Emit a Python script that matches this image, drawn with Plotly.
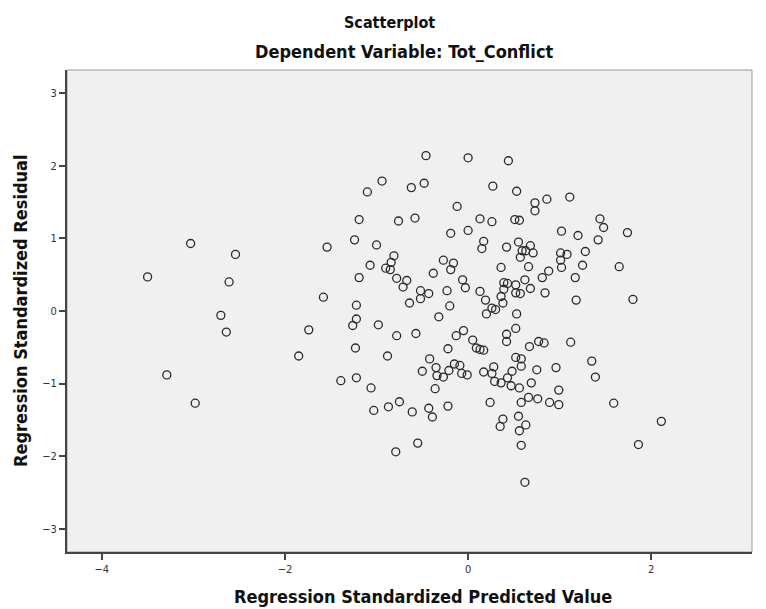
import plotly.graph_objects as go

# Regression standardized predicted values (x) and residuals (y)
pred_left = [-3.03, -2.54, -3.50, -2.61, -1.54, -1.24, -1.19, -1.19, -1.58, -1.22, -2.70,
             -1.22, -1.26, -2.64, -1.74, -1.23, -1.85, -3.29, -2.98, -1.39, -1.22]
resid_left = [0.93, 0.78, 0.47, 0.40, 0.88, 0.98, 1.26, 0.46, 0.19, 0.08, -0.06,
              -0.11, -0.20, -0.29, -0.26, -0.51, -0.62, -0.88, -1.27, -0.96, -0.92]

pred_upper = [-0.46, 0.00, 0.44, -0.94, -1.10, -0.62, -0.48, 0.27, 0.53, 0.73, 0.73, 0.86,
              -0.12, -0.76, -0.58, 0.13, 0.26, 0.51, 0.56, 1.02, -1.00, -0.19, 0.00, 0.17,
              0.15, 0.42, 0.55, 0.59, 0.63, 0.68, 0.71, 0.57, 1.01, -0.81, -0.84, -0.90,
              -0.85, -1.07, -0.78, -0.67, -0.71, -0.38, -0.27, -0.16, -0.19, -0.06, -0.03,
              0.36, 0.66, 0.81, 0.88, 1.02, 0.62, 0.68, 0.84, 0.39, 0.43, 0.52, 0.52, 0.57,
              0.39, 0.36, 0.38, 0.53, -0.52, -0.52, -0.43, -0.64, -0.23, -0.20, 0.13, 0.19,
              0.20, 0.26, 0.30, -0.32]
resid_upper = [2.14, 2.11, 2.07, 1.79, 1.64, 1.70, 1.76, 1.72, 1.65, 1.49, 1.38, 1.54,
               1.44, 1.24, 1.28, 1.27, 1.23, 1.26, 1.25, 1.10, 0.91, 1.07, 1.11, 0.96,
               0.86, 0.88, 0.95, 0.83, 0.83, 0.90, 0.80, 0.74, 0.80, 0.76, 0.67, 0.59,
               0.57, 0.63, 0.45, 0.42, 0.33, 0.52, 0.70, 0.66, 0.57, 0.43, 0.32,
               0.60, 0.61, 0.46, 0.55, 0.60, 0.43, 0.31, 0.25, 0.39, 0.38, 0.36, 0.25, 0.24,
               0.30, 0.20, 0.11, -0.04, 0.28, 0.17, 0.24, 0.11, 0.28, 0.07, 0.27, 0.15,
               -0.04, 0.04, 0.02, -0.08]

pred_lower = [-0.98, -0.78, -0.57, -0.88, -0.13, -0.05, -0.22, 0.05, 0.09, 0.13, 0.17,
              0.42, 0.42, 0.52, 0.67, 0.77, 0.83, -0.42, -0.35, -0.50, -0.34, -0.27, -0.21,
              -0.15, -0.09, -0.07, -0.01, -0.36, -0.22, -0.43, -0.39, -0.61, -0.75, -0.87,
              -1.03, -1.06, -0.55, -0.79, 0.17, 0.28, 0.26, 0.29, 0.36, 0.43, 0.48, 0.47,
              0.52, 0.58, 0.58, 0.56, 0.69, 0.75, 0.96, 0.24, 0.58, 0.66, 0.76, 0.89, 0.99,
              0.99, 0.38, 0.35, 0.55, 0.63, 0.56, 0.58, 0.62]
resid_lower = [-0.19, -0.34, -0.31, -0.62, -0.34, -0.27, -0.52, -0.40, -0.51, -0.53, -0.54,
               -0.32, -0.42, -0.24, -0.49, -0.42, -0.44, -0.66, -0.78, -0.83, -0.89, -0.91, -0.82,
               -0.73, -0.75, -0.86, -0.88, -1.07, -1.31, -1.34, -1.46, -1.39, -1.25, -1.32,
               -1.37, -1.06, -1.82, -1.94, -0.84, -0.77, -0.86, -0.97, -0.99, -0.92, -0.83, -1.03,
               -0.64, -0.66, -0.76, -1.06, -0.99, -0.81, -0.78, -1.26, -1.26, -1.19, -1.21, -1.26, -1.09,
               -1.29, -1.49, -1.59, -1.45, -1.57, -1.65, -1.85, -2.36]

pred_right = [1.11, 1.44, 1.48, 1.74, 1.20, 1.42, 1.28, 1.08, 1.01, 1.25, 1.65, 1.17,
              1.18, 1.80, 1.12, 1.35, 1.39, 1.59, 2.11, 1.86]
resid_right = [1.57, 1.27, 1.15, 1.08, 1.04, 0.98, 0.82, 0.78, 0.70, 0.63, 0.61, 0.46,
               0.15, 0.16, -0.43, -0.69, -0.91, -1.27, -1.52, -1.84]

x_ticks = [-4, -2, 0, 2]
y_ticks = [-3, -2, -1, 0, 1, 2, 3]

x_vals = pred_left + pred_upper + pred_lower + pred_right
y_vals = resid_left + resid_upper + resid_lower + resid_right

FONT = "Liberation Sans Narrow, DejaVu Sans Condensed, Arial Narrow, sans-serif"

fig = go.Figure()
fig.add_trace(go.Scatter(
    x=x_vals, y=y_vals, mode="markers",
    marker=dict(symbol="circle-open", size=8, color="#2a2a2a", line=dict(width=1.3, color="#2a2a2a")),
    showlegend=False, hoverinfo="x+y",
))

# the page adds an 8px body margin, so the figure is 8px smaller and margins shifted
fig.update_layout(
    width=758, height=601,
    margin=dict(l=59, r=14, t=62, b=57),
    paper_bgcolor="white",
    plot_bgcolor="#f0f0f0",
    font=dict(family=FONT, color="#222"),
    xaxis=dict(range=[-4.38, 3.10], tickvals=x_ticks, ticks="outside", ticklen=6, tickwidth=1.5,
               tickcolor="#444", showgrid=False, zeroline=False, showline=True, linecolor="#444",
               linewidth=2, mirror=False, tickfont=dict(size=11, color="#333", family=FONT)),
    yaxis=dict(range=[-3.32, 3.32], tickvals=y_ticks, ticks="outside", ticklen=6, tickwidth=1.5,
               tickcolor="#444", showgrid=False, zeroline=False, showline=True, linecolor="#444",
               linewidth=2, mirror=False, tickfont=dict(size=11, color="#333", family=FONT)),
    shapes=[dict(type="rect", xref="paper", yref="paper", x0=0, x1=1, y0=0, y1=1,
                 line=dict(color="#999", width=1), layer="below")],
    annotations=[
        dict(text="<b>Scatterplot</b>", xref="paper", yref="paper", x=0.4715, y=1, yshift=48,
             showarrow=False, xanchor="center", yanchor="middle", font=dict(size=16, family=FONT, color="#111")),
        dict(text="<b>Dependent Variable: Tot_Conflict</b>", xref="paper", yref="paper", x=0.493, y=1,
             yshift=19, showarrow=False, xanchor="center", yanchor="middle",
             font=dict(size=18, family=FONT, color="#111")),
        dict(text="<b>Regression Standardized Predicted Value</b>", xref="paper", yref="paper", x=0.52, y=0,
             yshift=-44, showarrow=False, xanchor="center", yanchor="middle",
             font=dict(size=18, family=FONT, color="#111")),
        dict(text="<b>Regression Standardized Residual</b>", xref="paper", yref="paper", x=0, y=0.5,
             xshift=-47, textangle=-90, showarrow=False, xanchor="center", yanchor="middle",
             font=dict(size=18, family=FONT, color="#111")),
    ],
)

fig.write_html("out.html")
